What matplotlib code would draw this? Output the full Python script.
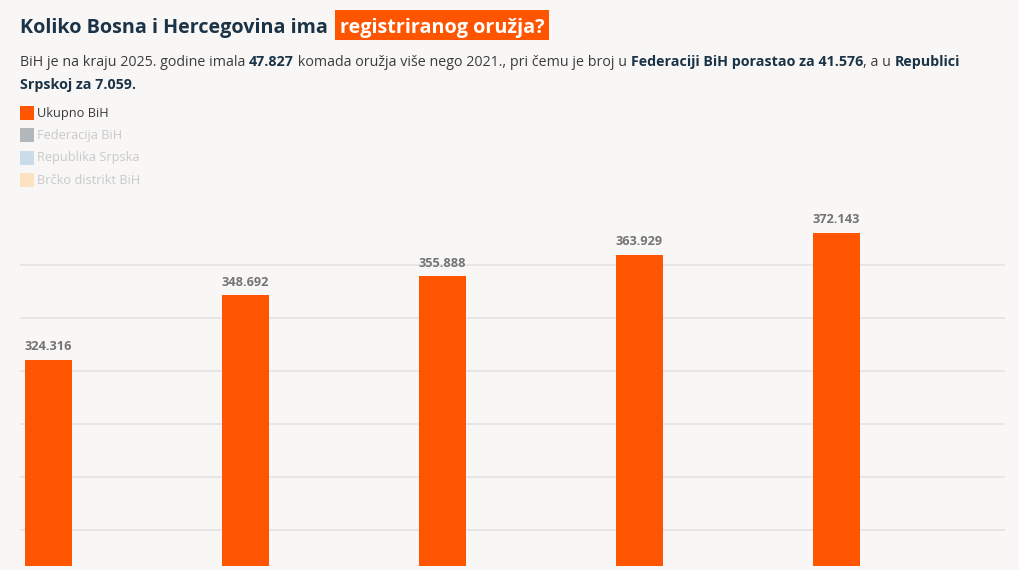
import matplotlib
matplotlib.use("Agg")
import matplotlib.pyplot as plt
from matplotlib.patches import Rectangle

# ---- data ----
years = ["2021", "2022", "2023", "2024", "2025"]
ukupno = [324316, 348692, 355888, 363929, 372143]
legend_labels = ["Ukupno BiH", "Federacija BiH", "Republika Srpska", "Brčko distrikt BiH"]
legend_colors = ["#ff5500", "#b1b7bb", "#c9dcea", "#fbe3c2"]
legend_text_colors = ["#3a3a3a", "#c9c9c9", "#c9c9c9", "#c9c9c9"]
grid_values = [260000, 280000, 300000, 320000, 340000, 360000]

W, H = 1019, 570
BG = "#f8f7f6"
NAVY = "#1b3346"
ORANGE = "#ff5500"
FONT = "Open Sans"

fig = plt.figure(figsize=(W / 100, H / 100), dpi=100, facecolor=BG)

def fx(px):
    return px / W

def fy(py):
    return 1 - py / H

# ---- axes ----
ax_left, ax_right, ax_top, ax_bottom = 20, 1005, 200, 566
ax = fig.add_axes([fx(ax_left), fy(ax_bottom), fx(ax_right - ax_left), (ax_bottom - ax_top) / H])
ax.set_facecolor(BG)
for s in ax.spines.values():
    s.set_visible(False)
ax.set_xlim(0, len(years))
ax.set_ylim(246400, 384500)
ax.set_xticks([])
ax.set_yticks([])
for g in grid_values:
    ax.axhline(g, color="#e2e2e2", lw=1.1, zorder=0)

group_pad = 0.024
bar_w = 0.2386
xs = [i + group_pad for i in range(len(years))]
ax.bar(xs, ukupno, width=bar_w, align="edge", color=ORANGE, zorder=2, bottom=0)

def fmt(v):
    return f"{v:,}".replace(",", ".")

for x, v in zip(xs, ukupno):
    ax.annotate(fmt(v), (x + bar_w / 2, v), xytext=(0, 4.5), textcoords="offset points",
                ha="center", va="bottom", fontsize=9.2, fontweight="bold",
                color="#737373", family=FONT)

# ---- title with highlight ----
fig.canvas.draw()
renderer = fig.canvas.get_renderer()

def run_text(pieces, x0, y0, size, default_color):
    """pieces: list of (text, weight, color)"""
    x = x0
    for txt, weight, color in pieces:
        t = fig.text(fx(x), fy(y0), txt, fontsize=size, fontweight=weight,
                     color=color or default_color, family=FONT, va="baseline", ha="left")
        bb = t.get_window_extent(renderer)
        x += bb.width
    return x

title_size = 14.2
t1 = fig.text(fx(20), fy(33), "Koliko Bosna i Hercegovina ima ", fontsize=title_size,
              fontweight="bold", color=NAVY, family=FONT, va="baseline", ha="left")
bb = t1.get_window_extent(renderer)
hx = 20 + bb.width + 2
t2 = fig.text(fx(hx + 5), fy(33), "registriranog oružja?", fontsize=title_size,
              fontweight="bold", color="white", family=FONT, va="baseline", ha="left", zorder=3)
bb2 = t2.get_window_extent(renderer)
fig.patches.append(Rectangle((fx(hx), fy(40)), fx(bb2.width + 9), 30 / H,
                             transform=fig.transFigure, facecolor=ORANGE, edgecolor="none", zorder=1))

# ---- subtitle ----
sub_size = 10.3
SUBC = "#3c3c3c"
line1 = [
    ("BiH je na kraju 2025. godine imala ", "normal", SUBC),
    ("47.827", "bold", NAVY),
    (" komada oružja više nego 2021., pri čemu je broj u ", "normal", SUBC),
    ("Federaciji BiH porastao za 41.576", "bold", NAVY),
    (", a u ", "normal", SUBC),
    ("Republici", "bold", NAVY),
]
line2 = [("Srpskoj za 7.059.", "bold", NAVY)]
run_text(line1, 20, 66, sub_size, SUBC)
run_text(line2, 20, 89, sub_size, SUBC)

# ---- legend ----
leg_y = [106, 128, 151, 173]
for lab, col, tcol, y in zip(legend_labels, legend_colors, legend_text_colors, leg_y):
    fig.patches.append(Rectangle((fx(20), fy(y + 14)), fx(14), 14 / H,
                                 transform=fig.transFigure, facecolor=col, edgecolor="none"))
    fig.text(fx(37), fy(y + 7), lab, fontsize=9.2, color=tcol, family=FONT,
             va="center", ha="left")

fig.savefig("out.png", dpi=100, facecolor=BG)
